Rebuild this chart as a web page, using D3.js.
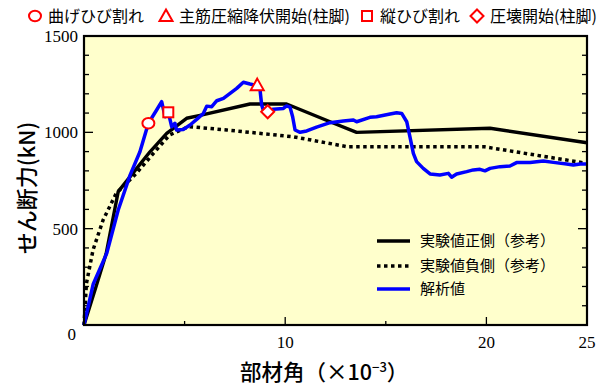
<!DOCTYPE html>
<html>
<head>
<meta charset="utf-8">
<script src="https://cdn.jsdelivr.net/npm/d3@7"></script>
<style>
  body { margin: 0; background: #fff; }
  svg { display: block; }
</style>
</head>
<body>
<svg id="chart" width="602" height="387"></svg>
<script>
// Drift angle (×10^-3) vs shear force (kN)
const expPosX = [0, 0.6, 1.1, 1.7, 2.62, 3.28, 4.11, 5.10, 5.77, 8.25, 10.07, 12.23, 13.55, 20.18, 25];
const expPosY = [0, 200, 370, 692, 813, 899, 995, 1073, 1088, 1147, 1147, 1055, 1000, 1021, 946];

const expNegX = [0, 0.12, 0.45, 0.95, 1.6, 2.6, 3.45, 4.25, 5.2, 7.1, 10.4, 13.1, 19.9, 25];
const expNegY = [0, 215, 390, 545, 683, 787, 891, 986, 1030, 1012, 977, 925, 925, 839];

const anaX = [0, 0.46, 1.13, 1.70, 2.29, 2.78, 3.20, 3.61, 3.86, 4.03, 4.19, 4.36, 4.52, 4.60, 4.93,
  5.27, 5.60, 5.93, 6.10, 6.35, 6.60, 6.93, 7.26, 7.59, 7.92, 8.25, 8.50, 8.75, 8.83, 8.91,
  9.13, 9.41, 9.91, 10.07, 10.24, 10.37, 10.49, 10.74, 11.07, 11.56, 12.23, 12.89, 13.39, 13.55,
  14.21, 14.54, 15.21, 15.54, 15.79, 16.04, 16.20, 16.37, 16.53, 16.86, 17.20, 17.69, 18.11,
  18.27, 18.52, 19.02, 19.35, 19.68, 19.93, 20.18, 20.68, 21.17, 21.50, 22.17, 22.83, 23.33,
  23.99, 24.32, 24.66, 25];
const anaY = [0, 213, 372, 597, 778, 899, 1047, 1116, 1159, 1081, 1104, 1029, 1047, 1012, 1015,
  1038, 1067, 1098, 1136, 1133, 1164, 1176, 1202, 1228, 1260, 1251, 1245, 1220, 1142, 1116,
  1107, 1120, 1124, 1137, 1131, 1081, 1012, 1000, 1007, 1027, 1050, 1059, 1064, 1055,
  1078, 1081, 1095, 1102, 1098, 1055, 977, 891, 848, 813, 784, 779, 787,
  767, 784, 796, 805, 808, 800, 813, 822, 825, 843, 843, 851, 844,
  836, 830, 836, 836];

// Event markers on the analysis curve
const eventNames = ["曲げひび割れ", "主筋圧縮降伏開始(柱脚)", "縦ひび割れ", "圧壊開始(柱脚)"];
const eventShapes = ["circle", "triangle", "square", "diamond"];
const eventX = [3.20, 8.61, 4.19, 9.13];
const eventY = [1047, 1245, 1104, 1107];

const seriesNames = ["実験値正側（参考）", "実験値負側（参考）", "解析値"];

const xTicksMajor = [10, 20, 25];
const xTicksMinor = [5, 15];
const yTickLabels = [500, 1000, 1500];

const svg = d3.select("#chart");
const M = { left: 84, right: 587, top: 36, bottom: 325 };

const x = d3.scaleLinear().domain([0, 25]).range([M.left, M.right]);
const y = d3.scaleLinear().domain([0, 1500]).range([M.bottom, M.top]);

const sans = "'Noto Sans CJK JP', 'Noto Sans', sans-serif";
const serif = "'Liberation Serif', 'DejaVu Serif', serif";

// plot background
svg.append("rect")
  .attr("x", M.left).attr("y", M.top)
  .attr("width", M.right - M.left).attr("height", M.bottom - M.top)
  .attr("fill", "#ffffcc");

// y ticks (every 100 kN, inward on both sides)
const yTicks = d3.range(100, 1500, 100);
const tickG = svg.append("g").attr("stroke", "#000").attr("stroke-width", 1.3);
yTicks.forEach(v => {
  const len = v % 500 === 0 ? 9 : 5;
  tickG.append("line").attr("x1", M.left).attr("x2", M.left + len).attr("y1", y(v)).attr("y2", y(v));
  tickG.append("line").attr("x1", M.right).attr("x2", M.right - len).attr("y1", y(v)).attr("y2", y(v));
});
xTicksMajor.filter(v => v < 25).forEach(v => {
  tickG.append("line").attr("x1", x(v)).attr("x2", x(v)).attr("y1", M.bottom).attr("y2", M.bottom - 8);
});
xTicksMinor.forEach(v => {
  tickG.append("line").attr("x1", x(v)).attr("x2", x(v)).attr("y1", M.bottom).attr("y2", M.bottom - 4);
});

// tick labels
svg.append("g").selectAll("text").data(yTickLabels).join("text")
  .attr("x", M.left - 6).attr("y", d => y(d)).attr("dy", "0.35em")
  .attr("text-anchor", "end")
  .attr("font-family", serif).attr("font-size", 17)
  .text(d => d);
svg.append("text")
  .attr("x", 76).attr("y", 340)
  .attr("text-anchor", "end")
  .attr("font-family", serif).attr("font-size", 17)
  .text("0");
svg.append("g").selectAll("text").data(xTicksMajor).join("text")
  .attr("x", d => x(d)).attr("y", 348)
  .attr("text-anchor", "middle")
  .attr("font-family", serif).attr("font-size", 17)
  .text(d => d);

// curves
const line = d3.line().x(d => x(d[0])).y(d => y(d[1]));
const plotG = svg.append("g");
plotG.append("path")
  .datum(d3.zip(expNegX, expNegY))
  .attr("d", line).attr("fill", "none")
  .attr("stroke", "#000").attr("stroke-width", 3.5)
  .attr("stroke-dasharray", "3.5,3.5");
plotG.append("path")
  .datum(d3.zip(expPosX, expPosY))
  .attr("d", line).attr("fill", "none")
  .attr("stroke", "#000").attr("stroke-width", 3.4)
  .attr("stroke-linejoin", "round");
plotG.append("path")
  .datum(d3.zip(anaX, anaY))
  .attr("d", line).attr("fill", "none")
  .attr("stroke", "#0000ff").attr("stroke-width", 3.5)
  .attr("stroke-linejoin", "round");

// marker symbols
function drawMarker(g, shape, cx, cy) {
  const s = { stroke: "#ff0000", "stroke-width": 2, fill: "#fff" };
  let el;
  if (shape === "circle") {
    el = g.append("ellipse").attr("cx", cx).attr("cy", cy).attr("rx", 6).attr("ry", 5.3);
  } else if (shape === "square") {
    el = g.append("rect").attr("x", cx - 5).attr("y", cy - 5).attr("width", 10).attr("height", 10);
  } else if (shape === "triangle") {
    el = g.append("path").attr("d", `M${cx},${cy - 6.5}L${cx + 6.5},${cy + 5}L${cx - 6.5},${cy + 5}Z`);
  } else {
    el = g.append("path").attr("d", `M${cx},${cy - 6.5}L${cx + 6.5},${cy}L${cx},${cy + 6.5}L${cx - 6.5},${cy}Z`);
  }
  Object.entries(s).forEach(([k, v]) => el.attr(k, v));
}
const markG = svg.append("g");
eventShapes.forEach((sh, i) => drawMarker(markG, sh, x(eventX[i]), y(eventY[i])));

// frame
svg.append("rect")
  .attr("x", M.left).attr("y", M.top)
  .attr("width", M.right - M.left).attr("height", M.bottom - M.top)
  .attr("fill", "none").attr("stroke", "#000").attr("stroke-width", 2.2);

// inner legend
const legY = [241, 266, 289];
const legG = svg.append("g");
seriesNames.forEach((name, i) => {
  const ly = legY[i];
  const l = legG.append("line")
    .attr("x1", 377).attr("x2", 410).attr("y1", ly).attr("y2", ly)
    .attr("stroke-width", 3.5);
  if (i === 0) l.attr("stroke", "#000");
  if (i === 1) l.attr("stroke", "#000").attr("stroke-dasharray", "3.5,3.5");
  if (i === 2) l.attr("stroke", "#0000ff");
  legG.append("text")
    .attr("x", 420).attr("y", ly).attr("dy", "0.35em")
    .attr("font-family", sans).attr("font-size", 15)
    .text(name);
});

// top legend for event markers
const topX = [35, 166, 367, 477];
const topG = svg.append("g");
eventNames.forEach((name, i) => {
  drawMarker(topG, eventShapes[i], topX[i], 16);
  topG.append("text")
    .attr("x", topX[i] + 13).attr("y", 16).attr("dy", "0.36em")
    .attr("font-family", sans).attr("font-size", 16)
    .text(name);
});

// axis titles
svg.append("text")
  .attr("transform", "translate(35,188) rotate(-90)")
  .attr("text-anchor", "middle")
  .attr("font-family", sans).attr("font-size", 22).attr("font-weight", 500)
  .text("せん断力(kN)");
const xt = svg.append("text")
  .attr("x", 240).attr("y", 380)
  .attr("font-family", sans).attr("font-size", 21.5).attr("font-weight", 500);
xt.append("tspan").text("部材角（×10");
xt.append("tspan").attr("dy", -8).attr("font-size", 13).text("−3");
xt.append("tspan").attr("dy", 8).text("）");
</script>
</body>
</html>
